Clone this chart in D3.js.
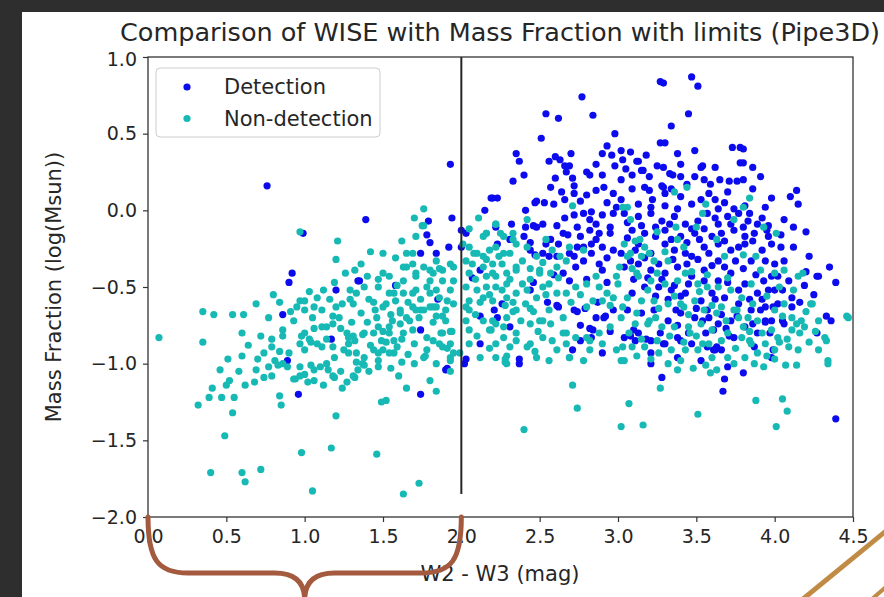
<!DOCTYPE html>
<html>
<head>
<meta charset="utf-8">
<script src="https://cdn.jsdelivr.net/npm/d3@7"></script>
<style>
  body { margin: 0; background: #2e2e2e; }
  svg { display: block; }
  text { font-family: "DejaVu Sans", sans-serif; fill: #262626; }
</style>
</head>
<body>
<svg id="chart" width="884" height="597"></svg>
<script>
// values: [W2 - W3, log mass fraction]
const detection = [
  [1.39,-0.06],[0.99,-0.15],[0.92,-0.41],[0.90,-0.47],[1.35,-0.46],[1.20,-0.52],[0.86,-0.68],[1.17,-0.84],
  [0.89,-0.98],[0.96,-1.20],[1.74,-1.20],[1.90,-1.04],[0.76,0.16],[1.93,0.30],[1.79,-0.07],[1.78,-0.16],
  [1.80,-0.21],[1.94,-0.05],[1.92,-0.24],[1.84,-0.28],[1.74,-0.28],[1.34,-0.46],[1.58,-0.49],[1.85,-0.58],
  [1.74,-0.78],[1.91,-1.03],
  [2.00,-0.13],[2.03,-0.15],[2.00,-0.24],[2.15,0.00],[2.20,0.08],[2.23,0.08],[2.23,-0.22],[2.07,-0.44],
  [2.12,-0.39],[2.12,-0.69],[2.21,-0.65],[2.03,-0.97],[2.12,-0.87],[2.02,-1.00],[2.37,-1.00],[2.37,-0.97],
  [2.77,0.74],[2.54,0.63],[2.62,0.60],[2.84,0.62],[2.51,0.47],[2.98,0.50],[2.35,0.37],[2.37,0.32],
  [2.40,0.23],[2.33,0.19],[2.56,0.32],[2.60,0.35],[2.63,0.33],[2.66,0.29],[2.69,0.29],[2.67,0.25],
  [2.71,0.21],[2.72,0.16],[2.80,0.25],[2.82,0.23],[2.90,0.37],[2.96,0.36],[2.90,0.23],[2.86,0.30],
  [2.98,0.29],[2.57,0.15],[2.64,0.12],[2.19,0.08],[2.47,0.05],[2.53,0.05],[2.59,0.04],[2.66,0.07],
  [2.72,0.11],[2.80,0.10],[2.86,0.13],[2.91,0.15],[2.97,0.11],[2.41,0.00],[2.48,0.06],
  [2.32,-0.09],[2.41,-0.11],[2.46,-0.10],[2.52,-0.09],[2.61,-0.10],[2.66,-0.05],[2.72,-0.03],[2.78,-0.02],
  [2.83,-0.01],[2.90,-0.03],[2.97,-0.02],[2.44,-0.21],[2.54,-0.22],[2.47,-0.29],[2.56,-0.30],[2.59,-0.42],
  [2.65,-0.41],[2.73,-0.37],[2.78,-0.33],[2.83,-0.28],[2.88,-0.35],[2.90,-0.39],[2.83,-0.22],[2.90,-0.24],
  [2.97,-0.26],[2.95,-0.15],[2.88,-0.15],[2.82,-0.13],[2.76,-0.17],[2.68,-0.16],[2.74,-0.24],[2.46,-0.47],
  [2.44,-0.52],[2.62,-0.63],[2.72,-0.65],[2.79,-0.64],[2.76,-0.75],[2.82,-0.77],[2.91,-0.70],[2.97,-0.65],
  [2.86,-0.70],[2.31,-0.76],[2.23,-0.70],[2.26,-0.61],[2.76,-0.85],[2.83,-0.83],[2.71,-0.91],
  [2.22,-0.11],[2.31,-0.19],[2.40,-0.17],[2.48,-0.11],[2.44,-0.26],[2.57,-0.19],[2.65,-0.15],[2.74,-0.11],
  [2.82,-0.06],[2.99,0.02],[2.95,-0.11],[2.86,-0.19],[2.78,-0.24],[2.69,-0.28],[2.61,-0.30],[2.52,-0.28],
  [2.61,-0.62],[2.74,-0.66],[2.92,-0.69],[2.84,-0.78],
  [3.03,0.33],[3.08,0.38],[3.12,0.32],[3.16,0.26],[3.20,0.22],[3.25,0.29],[3.29,0.15],[3.33,0.24],
  [3.54,0.29],[3.80,0.20],[3.84,-0.02],[3.95,-0.13],
  [3.27,0.84],[3.29,0.83],[3.47,0.87],[3.51,0.81],[3.45,0.63],[3.34,0.55],[3.02,0.39],[3.27,0.44],
  [3.30,0.44],[3.38,0.37],[3.49,0.39],[3.13,0.32],[3.15,0.26],[3.29,0.28],[3.73,0.41],[3.78,0.41],
  [3.80,0.40],[3.78,0.31],[3.80,0.31],[3.53,0.28],[3.91,0.22],[3.09,0.23],[3.02,0.20],[3.35,0.23],
  [3.40,0.22],[3.49,0.22],[3.55,0.20],[3.59,0.17],[3.65,0.20],[3.71,0.19],[3.76,0.19],[4.14,0.13],
  [4.15,0.04],[3.98,0.08],[3.09,0.14],[3.17,0.15],[3.20,0.13],[3.28,0.16],[3.30,0.11],[3.34,0.14],
  [3.40,0.09],[3.47,0.04],[3.53,0.07],[3.62,0.07],[3.68,0.05],[3.02,0.07],[3.13,0.04],[3.21,0.02],
  [3.30,0.03],[3.38,0.01],[3.64,0.01],[3.74,0.01],[3.81,0.03],
  [3.04,-0.02],[3.13,-0.04],[3.21,-0.02],[3.28,-0.07],[3.36,-0.04],[3.43,-0.09],[3.51,-0.07],[3.57,-0.02],
  [3.64,-0.09],[3.70,-0.04],[3.77,-0.02],[3.83,-0.07],[3.89,-0.09],[3.96,-0.10],[4.04,-0.16],[4.12,-0.11],
  [4.20,-0.14],[3.09,-0.13],[3.17,-0.15],[3.30,-0.13],[3.40,-0.17],[3.49,-0.15],[3.60,-0.17],[3.66,-0.15],
  [3.74,-0.13],[3.81,-0.17],[3.87,-0.15],[3.96,-0.17],[4.04,-0.24],[3.30,-0.22],[3.36,-0.26],[3.47,-0.30],
  [3.55,-0.24],[3.64,-0.22],[3.72,-0.26],[3.81,-0.22],[3.85,-0.33],[3.94,-0.33],[4.00,-0.35],[4.06,-0.33],
  [4.09,-0.46],[4.11,-0.57],[4.20,-0.40],[4.28,-0.43],[4.35,-0.37],[4.39,-0.47],[4.19,-0.49],[3.04,-0.37],
  [3.13,-0.35],[3.21,-0.39],[3.30,-0.41],[3.38,-0.37],[3.47,-0.43],[3.55,-0.39],[3.64,-0.46],[3.72,-0.41],
  [3.81,-0.48],[3.89,-0.54],[3.96,-0.52],[4.02,-0.61],[3.94,-0.63],[3.85,-0.65],[3.77,-0.61],[3.68,-0.57],
  [3.60,-0.54],[3.53,-0.59],[3.43,-0.54],[3.34,-0.52],[3.26,-0.50],[3.17,-0.50],[3.09,-0.54],[3.06,-0.65],
  [3.15,-0.67],[3.23,-0.65],[3.32,-0.72],[3.40,-0.67],[3.49,-0.70],[3.57,-0.65],[3.64,-0.74],[3.72,-0.72],
  [3.81,-0.76],[3.89,-0.80],[3.98,-0.72],[4.06,-0.74],[3.04,-0.83],[3.13,-0.80],[3.21,-0.85],[3.30,-0.87],
  [3.38,-0.83],[3.47,-0.87],[3.57,-0.89],[3.66,-0.91],[3.74,-0.83],[3.87,-0.89],[3.98,-0.96],[3.21,-0.93],
  [3.38,-0.96],[3.53,-0.98],[4.33,-0.69],[4.36,-0.72],[4.27,-0.80],[4.11,-0.63],[4.02,-0.43],[3.43,-0.28],
  [3.21,-0.28],[3.11,-0.26],[3.02,-0.28],[3.64,-0.33],[3.68,-0.37],[3.98,-0.43],[4.00,-0.52],[3.94,-0.72],
  [3.62,-0.91],[4.27,-0.43],
  [3.10,-0.78],[3.11,-0.85],[3.08,-0.82],[3.29,-0.87],[3.37,-0.65],[3.38,-0.75],[3.40,-0.85],[3.54,-0.72],
  [3.61,-0.78],[3.63,-0.89],[3.61,-0.91],[3.71,-0.82],[3.91,-0.65],[3.94,-0.73],[3.99,-0.63],[3.97,-0.80],
  [4.05,-0.72],
  [3.28,-1.09],[3.67,-1.18],[3.80,-1.06],[3.70,-1.02],[3.68,-1.10],[3.21,-1.00],[3.99,-0.91],[4.39,-1.36],
  [3.06,-0.08],[3.15,-0.10],[3.24,-0.11],[3.33,-0.09],[3.47,-0.12],[3.55,-0.12],[3.62,-0.05],[3.72,-0.09],
  [3.80,-0.11],[3.92,-0.05],[3.06,-0.18],[3.13,-0.22],[3.24,-0.17],[3.34,-0.19],[3.44,-0.21],[3.52,-0.19],
  [3.58,-0.28],[3.68,-0.20],[3.77,-0.24],[3.86,-0.20],[3.92,-0.26],[3.98,-0.22],[3.08,-0.33],[3.17,-0.31],
  [3.26,-0.35],[3.35,-0.32],[3.44,-0.35],[3.51,-0.32],[3.60,-0.36],[3.75,-0.33],[3.80,-0.38],[3.88,-0.42],
  [3.93,-0.46],[3.10,-0.45],[3.19,-0.44],[3.28,-0.45],[3.36,-0.49],[3.45,-0.48],[3.55,-0.46],[3.62,-0.58],
  [3.70,-0.47],[3.77,-0.52],[3.84,-0.58],[3.92,-0.58],[3.24,-0.56],[3.32,-0.58],[3.40,-0.56],[3.50,-0.64],
  [3.58,-0.70],[3.66,-0.68],[3.76,-0.69],[3.69,-0.77],[3.56,-0.80],[3.45,-0.80],[3.27,-0.80],[3.18,-0.84],
  [3.86,-0.74],
  [2.60,0.21],[2.76,0.06],[2.93,0.05],[3.05,0.27],[3.22,0.07],[3.44,0.17],[3.58,0.11],[3.70,0.12],
  [3.86,0.14],[3.94,0.02],[4.06,-0.06],[4.10,0.09],[3.18,0.36],[3.40,0.30],[3.62,0.28],[3.86,0.28],
  [2.93,0.42],[2.70,0.37],
  [2.62,-0.22],[2.72,-0.30],[2.86,-0.09],[2.93,-0.31],[2.80,-0.45],[2.93,-0.47],[2.69,-0.46],[2.55,-0.60],
  [2.87,-0.60],[2.95,-0.79],[2.90,-0.93],[4.05,-0.52],[4.16,-0.60],[4.22,-0.30],[4.25,-0.55],[4.12,-0.24]
];

const nonDetection = [
  [0.97,-0.14],[1.21,-0.20],[1.42,-0.27],[1.20,-0.32],[1.26,-0.41],[1.32,-0.39],[1.19,-0.47],[1.03,-0.53],
  [1.12,-0.52],[1.29,-0.52],[1.29,-0.58],[1.40,-0.43],[1.47,-0.50],[0.69,-0.61],[0.35,-0.66],[0.42,-0.68],
  [0.54,-0.68],[0.61,-0.68],[0.77,-0.70],[0.93,-0.72],[1.00,-0.59],[0.95,-0.63],[1.00,-0.65],[1.11,-0.65],
  [1.18,-0.69],[1.20,-0.63],[1.36,-0.67],[1.45,-0.65],[0.07,-0.83],[0.35,-0.86],[0.60,-0.80],[0.86,-0.78],
  [0.86,-0.82],[0.79,-0.84],[0.79,-0.89],[0.98,-0.82],[1.06,-0.77],[1.11,-0.76],[1.04,-0.86],[1.11,-0.89],
  [1.00,-0.91],[1.23,-0.77],[1.28,-0.83],[1.32,-0.85],[1.38,-0.80],[1.47,-0.76],[1.49,-0.85],[0.51,-0.97],
  [0.74,-0.93],[0.81,-0.98],[0.86,-1.00],[1.19,-0.96],[1.28,-0.93],[1.38,-0.96],[1.47,-0.93],
  [0.46,-1.04],[0.69,-1.04],[0.74,-1.09],[0.79,-1.08],[0.77,-1.02],[0.83,-1.01],[0.89,-1.02],[0.94,-1.10],
  [1.00,-1.07],[1.02,-1.12],[1.06,-1.11],[1.04,-1.01],[1.15,-1.04],[1.19,-1.09],[1.23,-1.05],[1.32,-1.09],
  [1.34,-1.04],[1.38,-1.01],[1.47,-1.02],[0.52,-1.11],[0.50,-1.14],[0.62,-1.14],[0.41,-1.16],[0.39,-1.22],
  [0.47,-1.22],[0.55,-1.22],[0.32,-1.27],[0.54,-1.32],[0.84,-1.21],[0.85,-1.27],[1.24,-1.16],[1.20,-1.34],
  [0.49,-1.47],[0.98,-1.58],[1.17,-1.55],[1.46,-1.59],[0.40,-1.71],[0.60,-1.71],[0.62,-1.77],[0.72,-1.69],
  [1.05,-1.83],[1.49,-1.25],
  [1.60,-1.08],[1.65,-1.16],[1.80,-1.11],[1.84,-1.18],[1.93,-1.05],[1.52,-1.24],[2.71,-1.14],[2.74,-1.29],
  [2.40,-1.43],[1.73,-1.78],[1.63,-1.85],[2.29,-1.00],
  [1.76,0.01],[1.75,-0.10],[2.16,-0.15],[2.22,-0.09],[1.69,-0.28],[1.65,-0.37],[1.71,-0.41],[1.76,-0.37],
  [1.82,-0.41],[1.88,-0.39],[1.95,-0.37],[1.69,-0.54],[1.78,-0.50],[1.84,-0.52],[1.91,-0.59],[1.50,-0.41],
  [1.57,-0.54],[1.95,-0.46],[1.82,-0.63],[1.88,-0.69],[1.74,-0.65],
  [1.77,-0.95],[1.93,-0.98],[1.95,-0.93],[1.93,-0.87],[1.87,-0.80],[1.88,-0.89],[1.94,-0.79],[1.99,-0.93],
  [1.33,-0.99],[1.37,-1.00],[1.33,-0.93],[1.42,-0.88],[1.47,-0.98],[1.54,-0.93],[1.57,-0.85],[1.03,-0.84],
  [1.08,-0.87],[1.14,-0.84],[1.18,-0.89],[1.25,-0.91],[1.28,-0.87],[0.97,-0.87],[1.00,-0.80],[1.14,-0.76],
  [1.18,-0.74],[1.27,-0.80],[1.31,-0.82],[1.37,-0.81],[1.44,-0.80],[1.50,-0.79],[1.54,-0.76],[1.61,-0.74],
  [1.67,-0.72],[0.97,-1.02],[1.06,-1.04],[1.10,-1.02],[0.97,-1.08],[0.93,-1.10],[1.14,-1.00],[1.18,-1.08],
  [1.31,-1.08],[1.44,-0.91],[1.50,-0.91],[0.97,-0.59],[1.06,-0.63],[1.50,-0.63],[1.61,-0.67],[1.71,-0.65],
  [1.80,-0.63],[1.84,-0.69],[1.31,-0.61],[1.44,-0.60],
  [1.76,-0.10],[1.71,-0.17],[1.65,-0.28],[1.69,-0.35],[1.63,-0.37],[1.54,-0.43],[1.63,-0.46],[1.71,-0.43],
  [1.80,-0.39],[1.86,-0.38],[1.93,-0.35],[1.88,-0.46],[1.54,-0.54],[1.63,-0.54],[1.71,-0.52],[1.80,-0.54],
  [1.86,-0.57],[1.93,-0.52],[1.52,-0.61],[1.61,-0.65],[1.69,-0.63],[1.76,-0.65],[1.84,-0.63],[1.90,-0.65],
  [1.95,-0.61],[1.56,-0.72],[1.65,-0.70],[1.73,-0.70],[1.82,-0.73],[1.90,-0.72],[1.54,-0.80],[1.63,-0.80],
  [1.69,-0.78],[1.78,-0.83],[1.88,-0.80],[1.93,-0.79],[1.59,-0.89],[1.78,-0.91],[1.86,-0.87],[1.91,-0.90],
  [1.57,-0.93],[1.93,-0.96],[1.76,-0.96],
  [2.05,-0.24],[2.10,-0.28],[2.14,-0.30],[2.18,-0.26],[2.22,-0.24],[2.24,-0.30],[2.20,-0.35],[2.14,-0.37],
  [2.07,-0.35],[2.03,-0.33],[2.16,-0.43],[2.22,-0.43],[2.29,-0.41],[2.03,-0.50],[2.10,-0.52],[2.16,-0.50],
  [2.22,-0.50],[2.29,-0.48],[2.05,-0.59],[2.14,-0.57],[2.20,-0.59],[2.29,-0.57],[2.35,-0.54],[2.39,-0.48],
  [2.35,-0.39],[2.39,-0.33],[2.31,-0.28],[2.27,-0.17],[2.16,-0.15],[2.22,-0.09],[2.33,-0.15],[2.05,-0.65],
  [2.14,-0.72],[2.22,-0.74],[2.29,-0.70],[2.35,-0.65],[2.41,-0.61],[2.48,-0.57],[2.52,-0.50],[2.56,-0.48],
  [2.61,-0.54],[2.67,-0.54],[2.73,-0.50],[2.80,-0.48],[2.86,-0.43],[2.93,-0.54],[2.99,-0.43],[2.50,-0.39],
  [2.61,-0.37],[2.67,-0.33],[2.69,-0.24],[2.78,-0.26],[2.84,-0.59],[2.90,-0.59],[2.97,-0.57],[2.05,-0.78],
  [2.18,-0.78],[2.27,-0.83],[2.35,-0.80],[2.44,-0.74],[2.52,-0.72],[2.56,-0.65],[2.65,-0.70],[2.67,-0.80],
  [2.80,-0.83],[2.88,-0.80],[2.95,-0.76],[2.05,-0.87],[2.22,-0.87],[2.31,-0.89],[2.44,-0.87],[2.52,-0.83],
  [2.61,-0.91],[2.69,-0.96],[2.82,-0.91],[2.90,-0.87],[2.99,-0.91],[2.12,-0.96],[2.22,-0.96],[2.29,-0.95],
  [2.48,-0.96],[2.56,-0.98],[2.78,-0.98],
  [2.01,-0.22],[2.08,-0.28],[2.14,-0.17],[2.16,-0.32],[2.25,-0.15],[2.27,-0.28],[2.33,-0.19],[2.35,-0.37],
  [2.42,-0.24],[2.48,-0.30],[2.54,-0.19],[2.57,-0.41],[2.63,-0.30],[2.50,-0.41],[2.44,-0.45],[2.31,-0.45],
  [2.20,-0.41],[2.05,-0.41],[2.03,-0.63],[2.03,-0.72],[2.20,-0.72],[2.19,-0.78],[2.28,-0.62],[2.33,-0.66],
  [2.44,-0.64],[2.50,-0.72],[2.49,-0.79],[2.35,-0.85],[2.42,-0.89],[2.57,-0.74],[2.65,-0.80],[2.67,-0.87],
  [2.82,-0.85],[2.80,-0.63],[2.71,0.03],
  [3.03,0.02],[3.08,-0.06],[3.14,-0.19],[3.20,-0.28],[3.08,-0.28],[3.01,-0.37],[3.12,-0.41],[3.25,-0.41],
  [3.37,-0.11],[3.42,-0.24],[3.50,-0.11],[3.54,-0.02],[3.63,-0.19],[3.74,-0.06],[3.80,0.02],[3.93,-0.11],
  [4.01,-0.15],[4.18,-0.41],[3.44,0.15],[3.84,0.08],[3.36,0.12],[3.56,0.04],[3.06,0.02],
  [3.04,-0.22],[3.11,-0.20],[3.17,-0.24],[3.06,-0.30],[3.15,-0.30],[3.23,-0.33],[3.32,-0.33],[3.13,-0.43],
  [3.21,-0.46],[3.30,-0.48],[3.38,-0.46],[3.43,-0.41],[3.51,-0.48],[3.57,-0.50],[3.64,-0.50],[3.72,-0.52],
  [3.79,-0.57],[3.85,-0.48],[3.91,-0.39],[4.00,-0.41],[4.06,-0.39],[4.15,-0.43],[4.23,-0.61],[4.17,-0.72],
  [4.28,-0.72],[3.06,-0.57],[3.15,-0.59],[3.23,-0.59],[3.32,-0.61],[3.40,-0.61],[3.49,-0.59],[3.55,-0.65],
  [3.66,-0.63],[3.74,-0.65],[3.83,-0.70],[3.89,-0.72],[4.00,-0.65],[4.06,-0.61],[4.11,-0.70],[3.02,-0.70],
  [3.11,-0.74],[3.19,-0.74],[3.28,-0.76],[3.36,-0.76],[3.45,-0.76],[3.53,-0.74],[3.60,-0.78],[3.70,-0.80],
  [3.79,-0.83],[3.85,-0.87],[3.94,-0.87],[4.02,-0.83],[4.11,-0.78],[4.19,-0.76],[3.09,-0.89],[3.17,-0.89],
  [3.26,-0.93],[3.34,-0.91],[3.43,-0.91],[3.51,-0.91],[3.60,-0.96],[3.70,-0.96],[3.81,-0.96],[3.89,-0.93],
  [4.00,-0.91],[4.09,-0.89],[3.04,-0.98],[3.32,-1.00],[3.74,-1.00],[3.87,-1.00],[4.32,-0.83],[4.34,-0.98],
  [4.47,-0.70],[4.15,-0.91],[4.28,-0.91],
  [3.03,-0.63],[3.12,-0.67],[3.20,-0.72],[3.25,-0.85],[3.03,-0.89],[3.42,-0.63],[3.46,-0.80],[3.54,-0.87],
  [3.63,-0.67],[3.76,-0.65],[3.80,-0.76],[3.84,-0.85],[4.05,-0.69],[4.14,-0.74],[4.16,-0.80],
  [3.02,-1.41],[3.16,-1.40],[3.07,-1.26],[3.51,-1.33],[4.01,-1.41],[4.05,-1.23],[4.08,-1.31],[3.88,-1.24],
  [3.27,-1.16],[3.59,-1.06],[3.63,-1.04],[3.38,-1.04],[3.48,-1.03],[3.02,-0.98],[2.28,-0.97],[2.28,-0.99],
  [2.69,-0.96],[3.93,-1.02],[4.07,-1.01],[4.14,-1.01],[4.34,-1.00],[4.00,-0.97],[4.46,-0.69],[4.33,-0.85],
  [4.24,-0.61],[4.03,-0.86],
  [3.00,-0.48],[3.09,-0.38],[3.19,-0.52],[3.26,-0.64],[3.36,-0.56],[3.45,-0.68],[3.52,-0.53],[3.60,-0.62],
  [3.69,-0.72],[3.77,-0.70],[3.86,-0.61],[3.95,-0.56],[4.03,-0.50],[4.12,-0.52],[4.20,-0.66],[4.26,-0.79],
  [3.07,-0.80],[3.15,-0.84],[3.24,-0.70],[3.33,-0.82],[3.42,-0.86],[3.50,-0.82],[3.58,-0.87],[3.66,-0.85],
  [3.75,-0.90],[3.84,-0.79],[3.92,-0.80],[3.98,-0.78],[4.08,-0.84],[4.22,-0.86],[3.12,-0.95],[3.21,-0.97],
  [3.40,-0.98],[3.56,-1.01],[3.95,-0.95],[3.47,-0.40],[3.57,-0.42],[3.70,-0.44],[3.80,-0.29],[3.88,-0.30],
  [3.30,-0.27],[3.38,-0.19],[3.25,-0.14],[3.68,-0.30],
  [2.09,-0.45],[2.18,-0.55],[2.26,-0.52],[2.33,-0.60],[2.42,-0.52],[2.46,-0.66],[2.54,-0.55],[2.62,-0.44],
  [2.70,-0.60],[2.76,-0.55],[2.88,-0.50],[2.95,-0.62],[2.58,-0.85],[2.73,-0.83],[2.47,-0.92],[2.10,-0.82],
  [2.18,-0.90],[2.27,-0.76],[2.38,-0.72],[2.09,-0.68],[2.12,-0.60],[2.26,-0.35],[2.35,-0.22],[2.44,-0.38],
  [2.52,-0.34],[2.58,-0.26],[2.05,-0.12],[2.11,-0.05],[2.42,-0.06],
  [1.08,-0.57],[1.16,-0.58],[1.24,-0.61],[1.33,-0.54],[1.41,-0.58],[1.46,-0.70],[1.55,-0.68],[1.58,-0.59],
  [1.66,-0.60],[1.74,-0.58],[1.80,-0.46],[1.59,-0.49],[1.47,-0.45],[1.38,-0.50],[1.52,-0.86],[1.62,-0.84],
  [1.70,-0.87],[1.82,-0.85],[1.66,-0.94],[1.70,-1.00],[1.84,-1.00],[1.55,-1.03],[1.62,-0.99],[1.41,-1.05],
  [1.27,-1.12],[1.12,-1.14],[0.90,-0.93],[0.84,-0.92],[0.70,-0.97],[0.64,-0.88],[0.72,-0.82],[0.68,-1.12],
  [0.58,-1.05],[0.60,-0.95],[1.30,-0.73],[1.22,-0.70],[1.40,-0.73],[1.05,-0.70],[0.91,-0.66],[0.84,-0.60],
  [0.80,-0.55],[1.36,-0.35],[1.58,-0.31],[1.50,-0.28],[1.62,-0.20],[1.84,-0.33],[1.70,-0.05]
];

const xTicks = [0.0, 0.5, 1.0, 1.5, 2.0, 2.5, 3.0, 3.5, 4.0, 4.5];
const yTicks = [-2.0, -1.5, -1.0, -0.5, 0.0, 0.5, 1.0];
const xDomain = [0, 4.5];
const yDomain = [-2, 1];
const cutX = 2.0;           // vertical limit line
const cutSpan = [-1.85, 1.0];
const seriesNames = ["Detection", "Non-detection"];
const seriesColors = ["#0b0bee", "#17b9b5"];

const svg = d3.select("#chart");

// slide: white card on dark background
svg.append("rect").attr("x", 22).attr("y", 12).attr("width", 862).attr("height", 585)
    .attr("fill", "#ffffff");

const x = d3.scaleLinear().domain(xDomain).range([148, 853]);
const y = d3.scaleLinear().domain(yDomain).range([517, 57]);

const plot = svg.append("g");

// points: detection first, then non-detection on top
[detection, nonDetection].forEach((pts, i) => {
    plot.append("g").selectAll("circle").data(pts).enter().append("circle")
        .attr("cx", d => x(d[0]))
        .attr("cy", d => y(d[1]))
        .attr("r", 3.6)
        .attr("fill", seriesColors[i]);
});

// limit line
plot.append("line")
    .attr("x1", x(cutX)).attr("x2", x(cutX))
    .attr("y1", y(cutSpan[0])).attr("y2", y(cutSpan[1]))
    .attr("stroke", "#262626").attr("stroke-width", 2);

// axes
let fmt = d3.format(".1f");
let xAxis = svg.append("g").attr("transform", "translate(0,517)")
    .call(d3.axisBottom(x).tickValues(xTicks).tickFormat(fmt).tickSize(5).tickPadding(8));
let yAxis = svg.append("g").attr("transform", "translate(148,0)")
    .call(d3.axisLeft(y).tickValues(yTicks).tickFormat(fmt).tickSize(5).tickPadding(6));
[xAxis, yAxis].forEach(a => {
    a.select(".domain").remove();
    a.selectAll(".tick line").attr("stroke", "#333").attr("stroke-width", 1.2);
    a.selectAll(".tick text").style("font-size", "19px").attr("fill", "#262626")
        .style("font-family", "'DejaVu Sans', sans-serif");
});
// top label sits just under the title
yAxis.selectAll(".tick text").filter(d => d === 1.0).attr("dy", "0.45em");

// frame
svg.append("rect").attr("x", 148).attr("y", 57).attr("width", 705).attr("height", 460)
    .attr("fill", "none").attr("stroke", "#333").attr("stroke-width", 1.3);

// title and labels
svg.append("text").attr("x", 500).attr("y", 41).attr("text-anchor", "middle")
    .style("font-size", "24px")
    .attr("textLength", 760).attr("lengthAdjust", "spacingAndGlyphs")
    .text("Comparison of WISE with Mass Fraction with limits (Pipe3D)");

svg.append("text").attr("x", 500).attr("y", 581).attr("text-anchor", "middle")
    .style("font-size", "21px").text("W2 - W3 (mag)");

svg.append("text").attr("transform", "translate(61,287) rotate(-90)").attr("text-anchor", "middle")
    .style("font-size", "21px").text("Mass Fraction (log(Msun))");

// legend
let lg = svg.append("g");
lg.append("rect").attr("x", 156).attr("y", 68).attr("width", 224).attr("height", 69).attr("rx", 4)
    .attr("fill", "#fff").attr("fill-opacity", 0.8).attr("stroke", "#cccccc").attr("stroke-width", 1);
seriesNames.forEach((name, i) => {
    let ly = 87 + i * 31.5;
    lg.append("circle").attr("cx", 187).attr("cy", ly).attr("r", 3.6).attr("fill", seriesColors[i]);
    lg.append("text").attr("x", 224).attr("y", ly + 7).style("font-size", "21px").text(name);
});

// slide decorations: brace under the 0-2 range and gold stripes
let bx0 = x(0), bx1 = x(2), bm = (bx0 + bx1) / 2;
svg.append("path")
    .attr("d", `M${bx0},517 C${bx0},560 ${bx0 + 10},573 ${bx0 + 40},573 L${bm - 30},573 ` +
               `C${bm - 12},573 ${bm},580 ${bm},600 C${bm},580 ${bm + 12},573 ${bm + 30},573 ` +
               `L${bx1 - 40},573 C${bx1 - 10},573 ${bx1},560 ${bx1},517`)
    .attr("fill", "none").attr("stroke", "#a35a3f").attr("stroke-width", 5).attr("stroke-linecap", "round");

svg.append("line").attr("x1", 803).attr("y1", 599).attr("x2", 886).attr("y2", 531)
    .attr("stroke", "#c08b45").attr("stroke-width", 5);
svg.append("line").attr("x1", 872).attr("y1", 599).attr("x2", 886).attr("y2", 587)
    .attr("stroke", "#c08b45").attr("stroke-width", 4);
</script>
</body>
</html>
